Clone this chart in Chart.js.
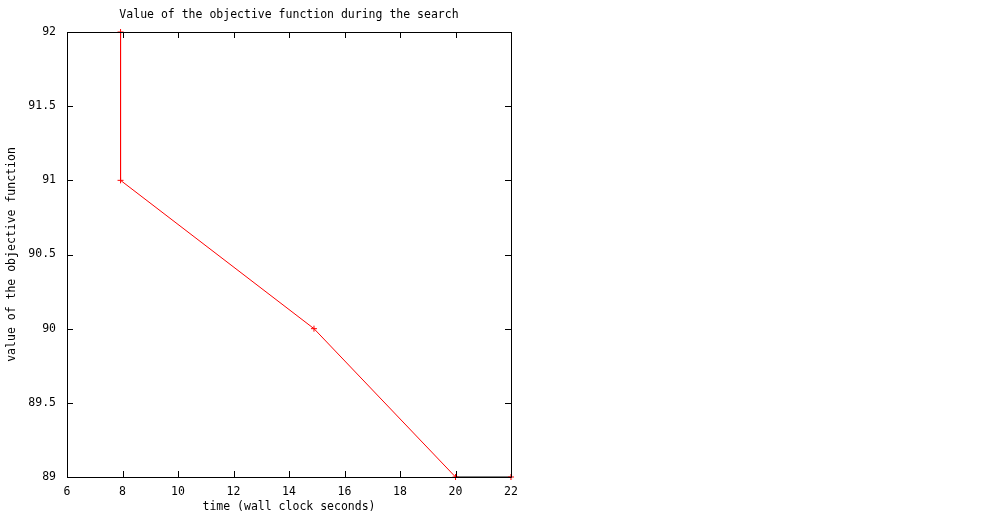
<!DOCTYPE html>
<html>
<head>
<meta charset="utf-8">
<script src="https://cdn.jsdelivr.net/npm/chart.js@4/dist/chart.umd.min.js"></script>
<style>
  html, body { margin: 0; padding: 0; background: #fff; }
  #wrap { width: 992px; height: 512px; }
</style>
</head>
<body>
<div id="wrap"><canvas id="myChart"></canvas></div>
<script>
// values
var times = [7.93, 7.93, 14.9, 20, 22];
var objective = [92, 91, 90, 89, 89];
var xTicks = [6, 8, 10, 12, 14, 16, 18, 20, 22];
var yTicks = [89, 89.5, 90, 90.5, 91, 91.5, 92];

var FONT = '"DejaVu Sans Mono", monospace';

// gnuplot style box with inward ticks on all four sides, drawn over the line
var frame = {
  id: 'frame',
  afterDatasetsDraw: function(chart) {
    var ctx = chart.ctx, a = chart.chartArea;
    var sx = chart.scales.x, sy = chart.scales.y;
    ctx.save();
    ctx.strokeStyle = '#000';
    ctx.lineWidth = 1;
    ctx.beginPath();
    ctx.rect(a.left + 0.5, a.top + 0.5, a.right - a.left, a.bottom - a.top);
    xTicks.forEach(function(v) {
      var px = Math.round(sx.getPixelForValue(v)) + 0.5;
      ctx.moveTo(px, a.bottom); ctx.lineTo(px, a.bottom - 6);
      ctx.moveTo(px, a.top); ctx.lineTo(px, a.top + 6);
    });
    yTicks.forEach(function(v) {
      var py = Math.round(sy.getPixelForValue(v)) + 0.5;
      ctx.moveTo(a.left, py); ctx.lineTo(a.left + 6, py);
      ctx.moveTo(a.right, py); ctx.lineTo(a.right - 6, py);
    });
    ctx.stroke();
    // title
    ctx.fillStyle = '#000';
    ctx.font = '11.5px ' + FONT;
    ctx.textAlign = 'center';
    ctx.textBaseline = 'middle';
    ctx.fillText('Value of the objective function during the search', (a.left + a.right) / 2, 15);
    ctx.restore();
  }
};

var ctx = document.getElementById('myChart').getContext('2d');
var chart = new Chart(ctx, {
  type: 'scatter',
  data: {
    datasets: [{
      data: times.map(function(t, i) { return { x: t, y: objective[i] }; }),
      showLine: true,
      borderColor: '#ff0000',
      backgroundColor: '#ff0000',
      borderWidth: 1,
      pointStyle: 'cross',
      pointRadius: 3,
      pointBorderWidth: 1,
      pointHoverRadius: 3,
      clip: 3,
      // last segment runs along the bottom border, which hides it in the original
      segment: { borderColor: function(c) { return c.p0DataIndex === 3 ? '#000' : undefined; } }
    }]
  },
  plugins: [frame],
  options: {
    responsive: true,
    maintainAspectRatio: false,
    animation: false,
    layout: { padding: { top: 32, right: 481, left: 0, bottom: 0 } },
    plugins: { legend: { display: false }, tooltip: { enabled: false }, title: { display: false } },
    scales: {
      x: {
        type: 'linear', min: 6, max: 22,
        afterBuildTicks: function(s) { s.ticks = xTicks.map(function(v) { return { value: v }; }); },
        afterFit: function(s) { s.height = 35; },
        grid: { display: false, drawTicks: false },
        border: { display: false },
        ticks: { color: '#000', font: { family: FONT, size: 11.5 }, padding: 8, maxRotation: 0,
                  callback: function(v) { return String(v); } },
        title: { display: true, text: 'time (wall clock seconds)', color: '#000',
                 font: { family: FONT, size: 11.5 }, padding: { top: 0, bottom: -2 } }
      },
      y: {
        type: 'linear', min: 89, max: 92,
        afterBuildTicks: function(s) { s.ticks = yTicks.map(function(v) { return { value: v }; }); },
        afterFit: function(s) { s.width = 67; },
        grid: { display: false, drawTicks: false },
        border: { display: false },
        ticks: { color: '#000', font: { family: FONT, size: 11.5 }, padding: 11,
                 callback: function(v) { return String(v); } },
        title: { display: true, text: 'value of the objective function', color: '#000',
                 font: { family: FONT, size: 11.5 }, padding: { top: 5, bottom: 0 } }
      }
    }
  }
});
</script>
</body>
</html>
